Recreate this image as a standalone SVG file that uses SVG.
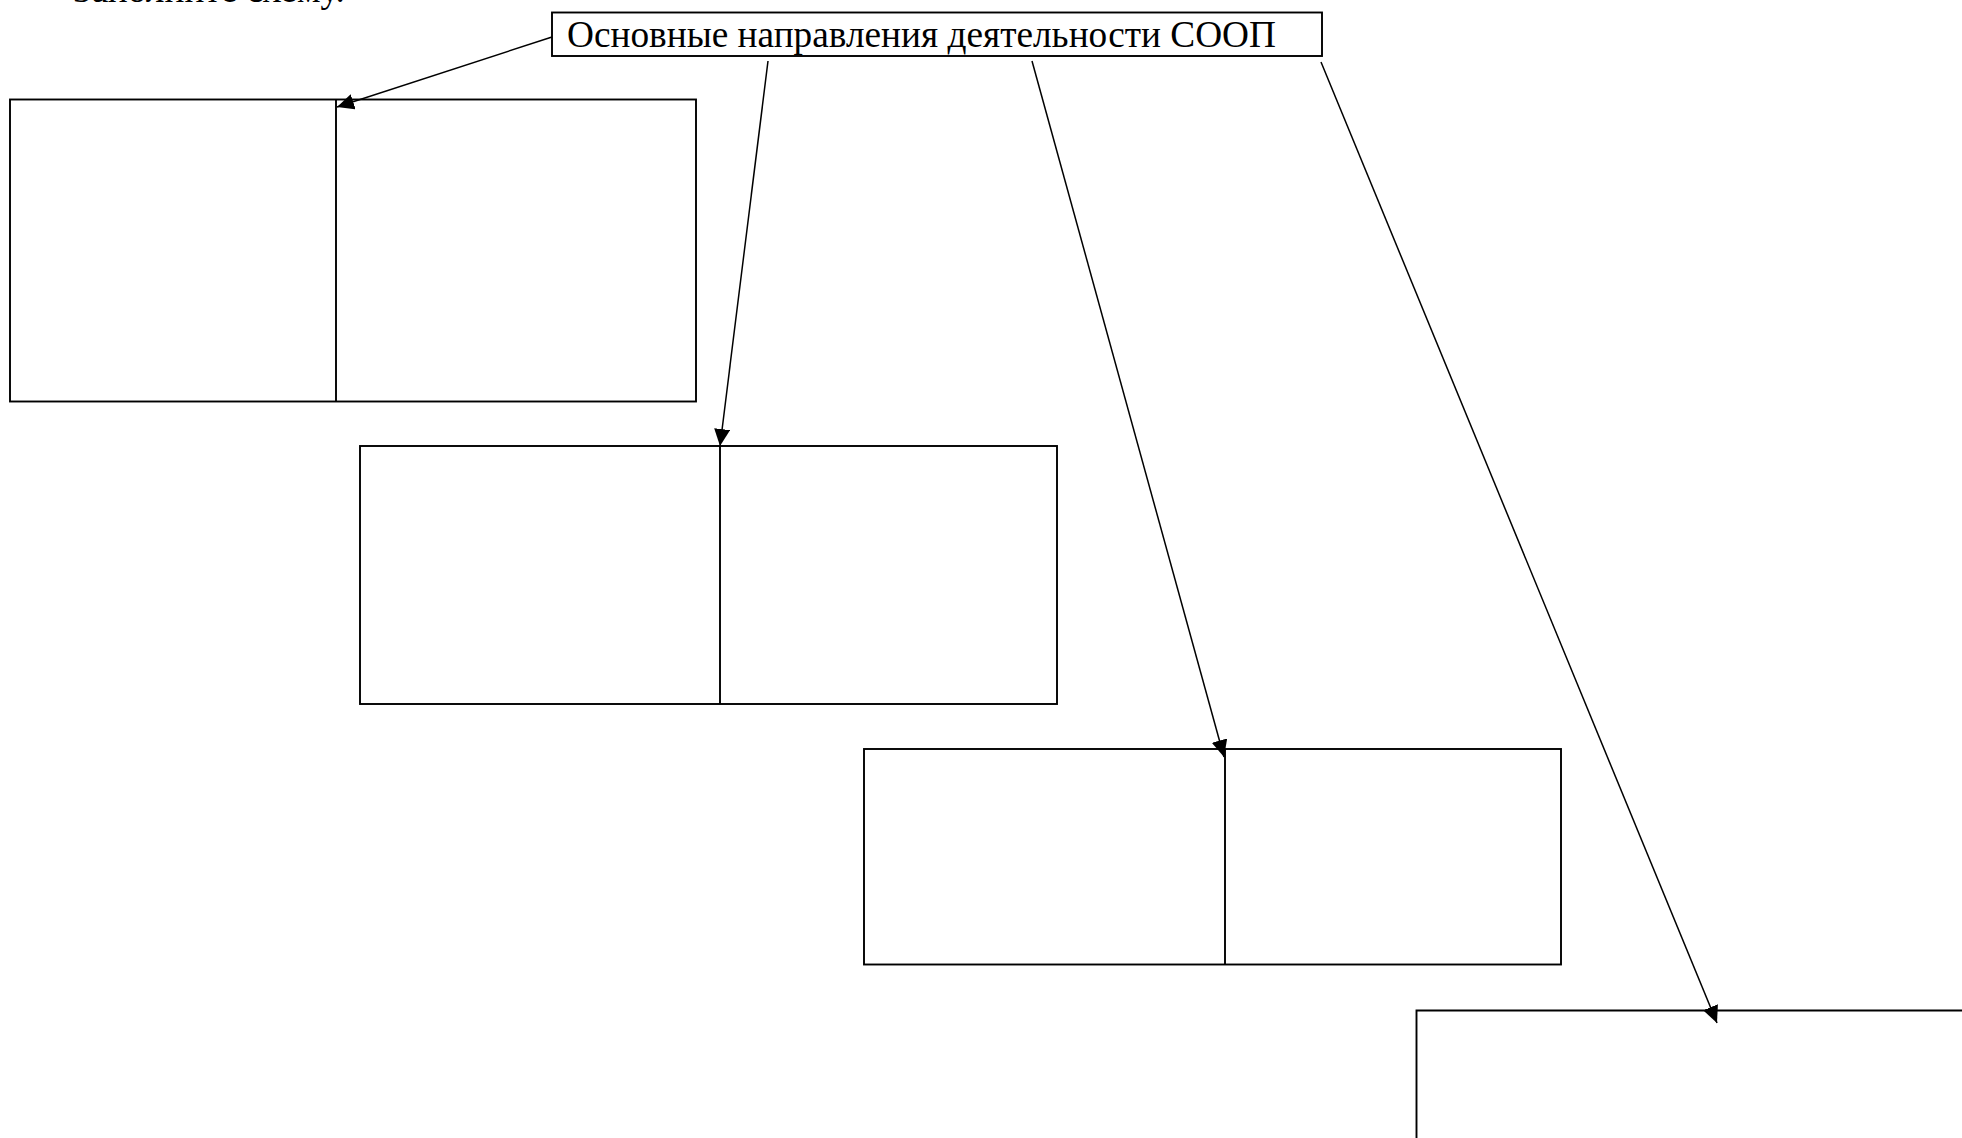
<svg xmlns="http://www.w3.org/2000/svg" width="1962" height="1138" viewBox="0 0 1962 1138">
<style>
.box{fill:#fff;stroke:#000;stroke-width:1.9}
.div{stroke:#000;stroke-width:1.9}
.txt{font-family:"Liberation Serif","Times New Roman",serif;font-size:37.3px;fill:#000}
.conn{stroke:#000;stroke-width:1.5;fill:none}
</style>
<defs>
<marker id="arr" markerUnits="userSpaceOnUse" markerWidth="18" markerHeight="16" refX="17" refY="8" orient="auto">
<path d="M0,0 L17,8 L0,16 z" fill="#000"/>
</marker>
</defs>
<rect width="1962" height="1138" fill="#fff"/>
<text class="txt" x="73" y="2">Заполните схему.</text>
<g id="title">
<rect class="box" x="552" y="12.5" width="770" height="43.5"/>
<text class="txt" x="567" y="47">Основные направления деятельности СООП</text>
</g>
<g id="box1">
<rect class="box" x="10" y="99.5" width="686" height="302"/>
<line class="div" x1="336" y1="99.5" x2="336" y2="401.5"/>
</g>
<g id="box2">
<rect class="box" x="360" y="446" width="697" height="258"/>
<line class="div" x1="720" y1="446" x2="720" y2="704"/>
</g>
<g id="box3">
<rect class="box" x="864" y="749" width="697" height="215.5"/>
<line class="div" x1="1225" y1="749" x2="1225" y2="964.5"/>
</g>
<g id="box4">
<path class="box" d="M1416.5,1140 V1010.5 H1964"/>
</g>
<g id="connectors">
<line class="conn" x1="552" y1="37" x2="337" y2="107" marker-end="url(#arr)"/>
<line class="conn" x1="768" y1="61" x2="720" y2="446" marker-end="url(#arr)"/>
<line class="conn" x1="1032" y1="61" x2="1224" y2="757" marker-end="url(#arr)"/>
<line class="conn" x1="1321" y1="62" x2="1717" y2="1023" marker-end="url(#arr)"/>
</g>
</svg>
